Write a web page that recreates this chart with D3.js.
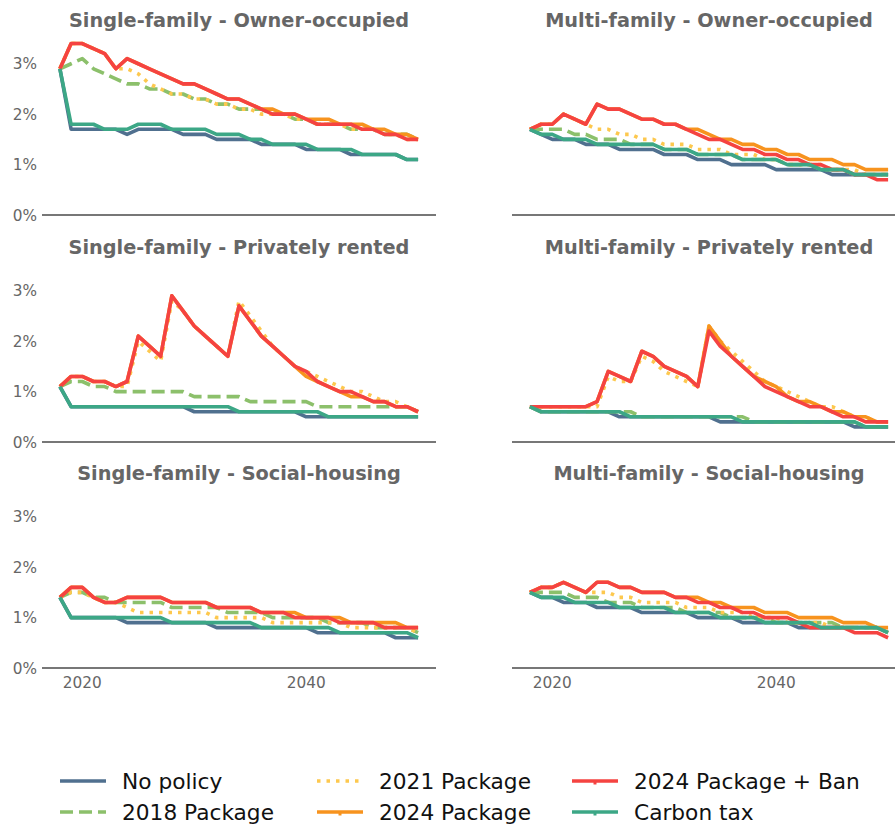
<!DOCTYPE html>
<html>
<head>
<meta charset="utf-8">
<script src="https://cdn.jsdelivr.net/npm/d3@7"></script>
<style>
  body { margin: 0; background: #fff; }
  svg { display: block; font-family: "DejaVu Sans", sans-serif; }
</style>
</head>
<body>
<div id="chart"></div>
<script>
// years 2018 .. 2050
var years = d3.range(2018, 2051);
var seriesNames = ["No policy", "2018 Package", "2021 Package", "2024 Package", "2024 Package + Ban", "Carbon tax"];
var panelTitles = [
  "Single-family - Owner-occupied", "Multi-family - Owner-occupied",
  "Single-family - Privately rented", "Multi-family - Privately rented",
  "Single-family - Social-housing", "Multi-family - Social-housing"
];
var yTicks = [0, 1, 2, 3];
var xTicks = [2020, 2040];

// Single-family - Owner-occupied
var sfOwnerNoPolicy = [2.9,1.7,1.7,1.7,1.7,1.7,1.6,1.7,1.7,1.7,1.7,1.6,1.6,1.6,1.5,1.5,1.5,1.5,1.4,1.4,1.4,1.4,1.3,1.3,1.3,1.3,1.2,1.2,1.2,1.2,1.2,1.1,1.1];
var sfOwner2018 = [2.9,3.0,3.1,2.9,2.8,2.7,2.6,2.6,2.5,2.5,2.4,2.4,2.3,2.3,2.2,2.2,2.1,2.1,2.1,2.0,2.0,1.9,1.9,1.8,1.8,1.8,1.7,1.7,1.7,1.6,1.6,1.6,1.5];
var sfOwner2021 = [2.9,3.4,3.4,3.3,3.2,2.9,2.9,2.8,2.6,2.5,2.4,2.4,2.3,2.3,2.2,2.2,2.1,2.1,2.0,2.0,2.0,1.9,1.9,1.8,1.8,1.8,1.7,1.7,1.7,1.6,1.6,1.5,1.5];
var sfOwner2024 = [2.9,3.4,3.4,3.3,3.2,2.9,3.1,3.0,2.9,2.8,2.7,2.6,2.6,2.5,2.4,2.3,2.3,2.2,2.1,2.1,2.0,2.0,1.9,1.9,1.9,1.8,1.8,1.8,1.7,1.7,1.6,1.6,1.5];
var sfOwnerBan = [2.9,3.4,3.4,3.3,3.2,2.9,3.1,3.0,2.9,2.8,2.7,2.6,2.6,2.5,2.4,2.3,2.3,2.2,2.1,2.0,2.0,2.0,1.9,1.8,1.8,1.8,1.8,1.7,1.7,1.6,1.6,1.5,1.5];
var sfOwnerTax = [2.9,1.8,1.8,1.8,1.7,1.7,1.7,1.8,1.8,1.8,1.7,1.7,1.7,1.7,1.6,1.6,1.6,1.5,1.5,1.4,1.4,1.4,1.4,1.3,1.3,1.3,1.3,1.2,1.2,1.2,1.2,1.1,1.1];

// Multi-family - Owner-occupied
var mfOwnerNoPolicy = [1.7,1.6,1.5,1.5,1.5,1.4,1.4,1.4,1.3,1.3,1.3,1.3,1.2,1.2,1.2,1.1,1.1,1.1,1.0,1.0,1.0,1.0,0.9,0.9,0.9,0.9,0.9,0.8,0.8,0.8,0.8,0.8,0.8];
var mfOwner2018 = [1.7,1.7,1.7,1.7,1.6,1.6,1.5,1.5,1.5,1.4,1.4,1.4,1.3,1.3,1.3,1.2,1.2,1.2,1.2,1.1,1.1,1.1,1.1,1.0,1.0,1.0,0.9,0.9,0.9,0.8,0.8,0.8,0.8];
var mfOwner2021 = [1.7,1.8,1.8,2.0,1.9,1.8,1.7,1.7,1.6,1.6,1.5,1.5,1.4,1.4,1.4,1.3,1.3,1.3,1.2,1.2,1.2,1.1,1.1,1.0,1.0,1.0,1.0,0.9,0.9,0.9,0.8,0.8,0.8];
var mfOwner2024 = [1.7,1.8,1.8,2.0,1.9,1.8,2.2,2.1,2.1,2.0,1.9,1.9,1.8,1.8,1.7,1.7,1.6,1.5,1.5,1.4,1.4,1.3,1.3,1.2,1.2,1.1,1.1,1.1,1.0,1.0,0.9,0.9,0.9];
var mfOwnerBan = [1.7,1.8,1.8,2.0,1.9,1.8,2.2,2.1,2.1,2.0,1.9,1.9,1.8,1.8,1.7,1.6,1.5,1.5,1.4,1.3,1.3,1.2,1.2,1.1,1.1,1.0,1.0,0.9,0.9,0.8,0.8,0.7,0.7];
var mfOwnerTax = [1.7,1.6,1.6,1.5,1.5,1.5,1.4,1.4,1.4,1.4,1.4,1.4,1.3,1.3,1.3,1.2,1.2,1.2,1.2,1.1,1.1,1.1,1.1,1.0,1.0,1.0,0.9,0.9,0.9,0.8,0.8,0.8,0.8];

// Single-family - Privately rented
var sfRentNoPolicy = [1.1,0.7,0.7,0.7,0.7,0.7,0.7,0.7,0.7,0.7,0.7,0.7,0.6,0.6,0.6,0.6,0.6,0.6,0.6,0.6,0.6,0.6,0.5,0.5,0.5,0.5,0.5,0.5,0.5,0.5,0.5,0.5,0.5];
var sfRent2018 = [1.1,1.2,1.2,1.1,1.1,1.0,1.0,1.0,1.0,1.0,1.0,1.0,0.9,0.9,0.9,0.9,0.9,0.8,0.8,0.8,0.8,0.8,0.8,0.7,0.7,0.7,0.7,0.7,0.7,0.7,0.7,0.7,0.6];
var sfRent2021 = [1.1,1.3,1.3,1.2,1.2,1.1,1.1,2.0,1.8,1.6,2.8,2.6,2.3,2.1,1.9,1.7,2.8,2.5,2.2,1.9,1.7,1.5,1.4,1.3,1.2,1.1,1.0,1.0,0.9,0.8,0.8,0.7,0.6];
var sfRent2024 = [1.1,1.3,1.3,1.2,1.2,1.1,1.2,2.1,1.9,1.7,2.9,2.6,2.3,2.1,1.9,1.7,2.7,2.4,2.1,1.9,1.7,1.5,1.3,1.2,1.1,1.0,0.9,0.9,0.8,0.8,0.7,0.7,0.6];
var sfRentBan = [1.1,1.3,1.3,1.2,1.2,1.1,1.2,2.1,1.9,1.7,2.9,2.6,2.3,2.1,1.9,1.7,2.7,2.4,2.1,1.9,1.7,1.5,1.4,1.2,1.1,1.0,1.0,0.9,0.8,0.8,0.7,0.7,0.6];
var sfRentTax = [1.1,0.7,0.7,0.7,0.7,0.7,0.7,0.7,0.7,0.7,0.7,0.7,0.7,0.7,0.7,0.7,0.6,0.6,0.6,0.6,0.6,0.6,0.6,0.6,0.5,0.5,0.5,0.5,0.5,0.5,0.5,0.5,0.5];

// Multi-family - Privately rented
var mfRentNoPolicy = [0.7,0.6,0.6,0.6,0.6,0.6,0.6,0.6,0.5,0.5,0.5,0.5,0.5,0.5,0.5,0.5,0.5,0.4,0.4,0.4,0.4,0.4,0.4,0.4,0.4,0.4,0.4,0.4,0.4,0.3,0.3,0.3,0.3];
var mfRent2018 = [0.7,0.6,0.6,0.6,0.6,0.6,0.6,0.6,0.6,0.6,0.5,0.5,0.5,0.5,0.5,0.5,0.5,0.5,0.5,0.5,0.4,0.4,0.4,0.4,0.4,0.4,0.4,0.4,0.4,0.4,0.3,0.3,0.3];
var mfRent2021 = [0.7,0.7,0.7,0.7,0.7,0.7,0.7,1.3,1.2,1.2,1.7,1.6,1.4,1.3,1.2,1.1,2.3,2.0,1.8,1.6,1.4,1.2,1.1,1.0,0.9,0.8,0.7,0.7,0.6,0.5,0.5,0.4,0.4];
var mfRent2024 = [0.7,0.7,0.7,0.7,0.7,0.7,0.8,1.4,1.3,1.2,1.8,1.7,1.5,1.4,1.3,1.1,2.3,2.0,1.7,1.5,1.3,1.2,1.1,0.9,0.8,0.8,0.7,0.6,0.6,0.5,0.5,0.4,0.4];
var mfRentBan = [0.7,0.7,0.7,0.7,0.7,0.7,0.8,1.4,1.3,1.2,1.8,1.7,1.5,1.4,1.3,1.1,2.2,1.9,1.7,1.5,1.3,1.1,1.0,0.9,0.8,0.7,0.7,0.6,0.5,0.5,0.4,0.4,0.4];
var mfRentTax = [0.7,0.6,0.6,0.6,0.6,0.6,0.6,0.6,0.6,0.5,0.5,0.5,0.5,0.5,0.5,0.5,0.5,0.5,0.5,0.4,0.4,0.4,0.4,0.4,0.4,0.4,0.4,0.4,0.4,0.4,0.3,0.3,0.3];

// Single-family - Social-housing
var sfSocialNoPolicy = [1.4,1.0,1.0,1.0,1.0,1.0,0.9,0.9,0.9,0.9,0.9,0.9,0.9,0.9,0.8,0.8,0.8,0.8,0.8,0.8,0.8,0.8,0.8,0.7,0.7,0.7,0.7,0.7,0.7,0.7,0.6,0.6,0.6];
var sfSocial2018 = [1.4,1.5,1.5,1.4,1.4,1.3,1.3,1.3,1.3,1.3,1.2,1.2,1.2,1.2,1.2,1.1,1.1,1.1,1.1,1.0,1.0,1.0,1.0,1.0,0.9,0.9,0.9,0.9,0.8,0.8,0.8,0.8,0.7];
var sfSocial2021 = [1.4,1.5,1.5,1.4,1.3,1.3,1.2,1.1,1.1,1.1,1.1,1.1,1.1,1.1,1.0,1.0,1.0,1.0,1.0,0.9,0.9,0.9,0.9,0.9,0.9,0.9,0.8,0.8,0.8,0.8,0.8,0.8,0.7];
var sfSocial2024 = [1.4,1.6,1.6,1.4,1.3,1.3,1.4,1.4,1.4,1.4,1.3,1.3,1.3,1.3,1.2,1.2,1.2,1.2,1.1,1.1,1.1,1.1,1.0,1.0,1.0,1.0,0.9,0.9,0.9,0.9,0.9,0.8,0.8];
var sfSocialBan = [1.4,1.6,1.6,1.4,1.3,1.3,1.4,1.4,1.4,1.4,1.3,1.3,1.3,1.3,1.2,1.2,1.2,1.2,1.1,1.1,1.1,1.0,1.0,1.0,1.0,0.9,0.9,0.9,0.9,0.8,0.8,0.8,0.8];
var sfSocialTax = [1.4,1.0,1.0,1.0,1.0,1.0,1.0,1.0,1.0,1.0,0.9,0.9,0.9,0.9,0.9,0.9,0.9,0.9,0.8,0.8,0.8,0.8,0.8,0.8,0.8,0.7,0.7,0.7,0.7,0.7,0.7,0.7,0.6];

// Multi-family - Social-housing
var mfSocialNoPolicy = [1.5,1.4,1.4,1.3,1.3,1.3,1.2,1.2,1.2,1.2,1.1,1.1,1.1,1.1,1.1,1.0,1.0,1.0,1.0,0.9,0.9,0.9,0.9,0.9,0.8,0.8,0.8,0.8,0.8,0.8,0.8,0.8,0.7];
var mfSocial2018 = [1.5,1.5,1.5,1.5,1.4,1.4,1.4,1.3,1.3,1.3,1.2,1.2,1.2,1.2,1.1,1.1,1.1,1.1,1.0,1.0,1.0,1.0,0.9,0.9,0.9,0.9,0.9,0.9,0.8,0.8,0.8,0.8,0.7];
var mfSocial2021 = [1.5,1.6,1.6,1.7,1.6,1.5,1.5,1.5,1.4,1.4,1.3,1.3,1.3,1.3,1.2,1.2,1.2,1.1,1.1,1.1,1.0,1.0,1.0,0.9,0.9,0.9,0.9,0.8,0.8,0.8,0.8,0.8,0.7];
var mfSocial2024 = [1.5,1.6,1.6,1.7,1.6,1.5,1.7,1.7,1.6,1.6,1.5,1.5,1.5,1.4,1.4,1.4,1.3,1.3,1.2,1.2,1.2,1.1,1.1,1.1,1.0,1.0,1.0,1.0,0.9,0.9,0.9,0.8,0.8];
var mfSocialBan = [1.5,1.6,1.6,1.7,1.6,1.5,1.7,1.7,1.6,1.6,1.5,1.5,1.5,1.4,1.4,1.3,1.3,1.2,1.2,1.1,1.1,1.0,1.0,1.0,0.9,0.8,0.8,0.8,0.8,0.7,0.7,0.7,0.6];
var mfSocialTax = [1.5,1.4,1.4,1.4,1.3,1.3,1.3,1.3,1.2,1.2,1.2,1.2,1.2,1.1,1.1,1.1,1.1,1.0,1.0,1.0,1.0,0.9,0.9,0.9,0.9,0.9,0.8,0.8,0.8,0.8,0.8,0.8,0.7];

var panelData = [
  [sfOwnerNoPolicy, sfOwner2018, sfOwner2021, sfOwner2024, sfOwnerBan, sfOwnerTax],
  [mfOwnerNoPolicy, mfOwner2018, mfOwner2021, mfOwner2024, mfOwnerBan, mfOwnerTax],
  [sfRentNoPolicy, sfRent2018, sfRent2021, sfRent2024, sfRentBan, sfRentTax],
  [mfRentNoPolicy, mfRent2018, mfRent2021, mfRent2024, mfRentBan, mfRentTax],
  [sfSocialNoPolicy, sfSocial2018, sfSocial2021, sfSocial2024, sfSocialBan, sfSocialTax],
  [mfSocialNoPolicy, mfSocial2018, mfSocial2021, mfSocial2024, mfSocialBan, mfSocialTax]
];

// styling
var colors = ["#50708f", "#8cc06b", "#fdc84e", "#f7931e", "#f54341", "#3ca786"];
var dashes = [null, "13,6", "3.5,6", null, null, null];
var legendMarker = [false, false, false, true, true, true];
var lineW = 3.6;

var width = 895, height = 829;
var colX = [42, 512], plotW = 394;
var rowBottom = [215, 442, 668], plotH = 180;

var svg = d3.select("#chart").append("svg")
  .attr("width", width)
  .attr("height", height);

var y = d3.scaleLinear().domain([0, 3.57]);

panelData.forEach(function(series, i) {
  var col = i % 2, row = Math.floor(i / 2);
  var x = d3.scaleLinear().domain([2016.4, 2051.6]).range([colX[col], colX[col] + plotW]);
  var yy = y.copy().range([rowBottom[row], rowBottom[row] - plotH]);
  var g = svg.append("g");

  g.append("text")
    .attr("x", colX[col] + plotW / 2)
    .attr("y", rowBottom[row] - 188)
    .attr("text-anchor", "middle")
    .attr("font-size", 19.3)
    .attr("font-weight", "bold")
    .attr("fill", "#666")
    .text(panelTitles[i]);

  if (col === 0) {
    g.selectAll(".ytick").data(yTicks).enter().append("text")
      .attr("x", 37)
      .attr("y", function(d) { return yy(d) + 5.5; })
      .attr("text-anchor", "end")
      .attr("font-size", 15.3)
      .attr("fill", "#666")
      .text(function(d) { return d + "%"; });
  }
  if (row === 2) {
    g.selectAll(".xtick").data(xTicks).enter().append("text")
      .attr("x", function(d) { return x(d); })
      .attr("y", rowBottom[row] + 20)
      .attr("text-anchor", "middle")
      .attr("font-size", 15.3)
      .attr("fill", "#666")
      .text(function(d) { return d; });
  }

  g.append("line")
    .attr("x1", colX[col]).attr("x2", colX[col] + plotW)
    .attr("y1", rowBottom[row]).attr("y2", rowBottom[row])
    .attr("stroke", "#777")
    .attr("stroke-width", 2.2);

  var line = d3.line()
    .x(function(d, k) { return x(years[k]); })
    .y(function(d) { return yy(d); });

  series.forEach(function(vals, s) {
    g.append("path")
      .datum(vals)
      .attr("d", line)
      .attr("fill", "none")
      .attr("stroke", colors[s])
      .attr("stroke-width", lineW)
      .attr("stroke-linejoin", "round")
      .attr("stroke-dasharray", dashes[s]);
  });
});

// legend, 3 columns x 2 rows
var legX = [60, 317, 572], legY = [781, 812];
seriesNames.forEach(function(name, s) {
  var cx = legX[Math.floor(s / 2)], cy = legY[s % 2];
  var lg = svg.append("g");
  lg.append("line")
    .attr("x1", cx).attr("x2", cx + 46)
    .attr("y1", cy).attr("y2", cy)
    .attr("stroke", colors[s])
    .attr("stroke-width", lineW)
    .attr("stroke-dasharray", dashes[s]);
  if (legendMarker[s]) {
    lg.append("path")
      .attr("d", "M" + (cx + 21.5) + "," + cy + "h3v3.5h-3z")
      .attr("fill", colors[s]);
  }
  lg.append("text")
    .attr("x", cx + 62)
    .attr("y", cy + 7.5)
    .attr("font-size", 21.7)
    .attr("fill", "#111")
    .text(name);
});
</script>
</body>
</html>
